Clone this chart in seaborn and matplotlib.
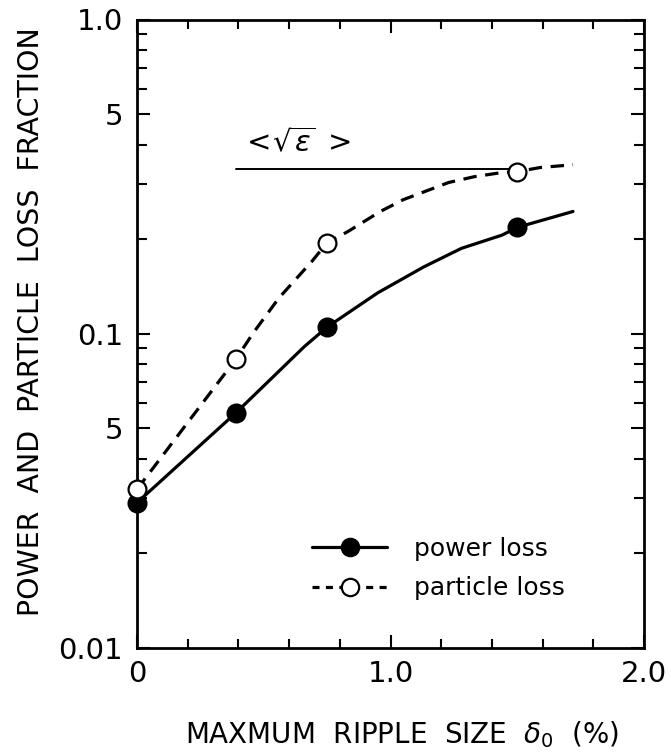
import matplotlib
matplotlib.use("Agg")
import matplotlib.pyplot as plt
from matplotlib.lines import Line2D
import seaborn as sns

# Measured loss fractions versus maximum ripple size
ripple_pct = [0.0, 0.39, 0.75, 1.5]
power_loss = [0.029, 0.056, 0.105, 0.218]
particle_loss = [0.032, 0.083, 0.195, 0.328]

# Hand-drawn guide curves through the measurements
power_curve_x = [0.0, 0.39, 0.66, 0.75, 0.95, 1.13, 1.28, 1.44, 1.5, 1.72]
power_curve_y = [0.029, 0.056, 0.091, 0.105, 0.135, 0.163, 0.187, 0.206, 0.218, 0.245]
particle_curve_x = [0.0, 0.39, 0.46, 0.56, 0.69, 0.75, 0.83, 0.96, 1.05,
                    1.23, 1.33, 1.43, 1.5, 1.59, 1.72]
particle_curve_y = [0.032, 0.083, 0.101, 0.130, 0.170, 0.195, 0.211, 0.245, 0.267,
                    0.303, 0.316, 0.325, 0.328, 0.338, 0.345]

# Reference level <sqrt(eps)>
sqrt_eps_level = 0.335
sqrt_eps_span = [0.39, 1.47]

x_ticks = [0.0, 1.0, 2.0]
x_tick_labels = ["0", "1.0", "2.0"]
x_minor = [0.2, 0.4, 0.6, 0.8, 1.2, 1.4, 1.6, 1.8]
y_ticks = [0.01, 0.05, 0.1, 0.5, 1.0]
y_tick_labels = ["0.01", "5", "0.1", "5", "1.0"]
y_minor = [0.02, 0.03, 0.04, 0.06, 0.07, 0.08, 0.09,
           0.2, 0.3, 0.4, 0.6, 0.7, 0.8, 0.9]

sns.set_style("ticks")
plt.rcParams["font.family"] = ["DejaVu Sans"]
plt.rcParams["mathtext.fontset"] = "dejavusans"
plt.rcParams["text.color"] = "black"
plt.rcParams["axes.labelcolor"] = "black"

W, H = 671, 752
fig = plt.figure(figsize=(W / 100, H / 100), dpi=100)
left, right, bottom, top = 137, 644, 648, 19.5
ax = fig.add_axes([left / W, (H - bottom) / H, (right - left) / W, (bottom - top) / H])
ax.set_yscale("log")

lw = 2.3
dash = (0, (4.2, 2.7))

# horizontal <sqrt(eps)> marker line
sns.lineplot(x=sqrt_eps_span, y=[sqrt_eps_level] * 2, ax=ax, color="black",
             linewidth=1.4, estimator=None, sort=False, zorder=1)
ax.text(0.627, 0.405, r"$<\!\sqrt{\epsilon}\;>$", fontsize=21,
        ha="center", va="center", color="black")

sns.lineplot(x=power_curve_x, y=power_curve_y, ax=ax, color="black", linewidth=lw,
             estimator=None, sort=False, zorder=2)
sns.lineplot(x=particle_curve_x, y=particle_curve_y, ax=ax, color="black",
             linewidth=lw, linestyle=dash, estimator=None, sort=False, zorder=2)

sns.scatterplot(x=ripple_pct, y=power_loss, ax=ax, marker="o", s=165,
                color="black", edgecolor="black", linewidth=1.6, zorder=3,
                clip_on=False)
sns.scatterplot(x=ripple_pct, y=particle_loss, ax=ax, marker="o", s=165,
                facecolor="white", edgecolor="black", linewidth=1.6, zorder=4,
                clip_on=False)

ax.set_xlim(0, 2.0)
ax.set_ylim(0.01, 1.0)

ax.set_xticks(x_ticks)
ax.set_xticklabels(x_tick_labels)
ax.set_xticks(x_minor, minor=True)
ax.set_yticks(y_ticks)
ax.set_yticklabels(y_tick_labels)
ax.set_yticks(y_minor, minor=True)
ax.yaxis.set_minor_formatter(matplotlib.ticker.NullFormatter())

ax.tick_params(which="both", direction="in", top=True, right=True,
               width=1.5, color="black", labelsize=21, labelcolor="black")
ax.tick_params(axis="x", which="major", length=9.5, pad=9)
ax.tick_params(axis="x", which="minor", length=6.5)
ax.tick_params(axis="y", which="major", length=9.5, pad=10)
ax.tick_params(axis="y", which="minor", length=7)

for sp in ax.spines.values():
    sp.set_visible(True)
    sp.set_linewidth(2.0)
    sp.set_color("black")

ax.set_xlabel(r"MAXMUM  RIPPLE  SIZE  $\delta_0$  (%)", fontsize=20, color="black")
ax.xaxis.set_label_coords(0.523, -0.137)
ax.xaxis.label.set_va("center")
ax.set_ylabel("POWER  AND  PARTICLE  LOSS  FRACTION", fontsize=20.5, color="black")
ax.yaxis.set_label_coords(-0.209, 0.519)
ax.yaxis.label.set_va("center")

handles = [
    Line2D([], [], color="black", lw=lw, marker="o", markersize=12.5,
           markerfacecolor="black", markeredgecolor="black", markeredgewidth=1.6),
    Line2D([], [], color="black", lw=lw, linestyle=(0, (2.2, 2.0)), marker="o",
           markersize=12.5, markerfacecolor="white", markeredgecolor="black",
           markeredgewidth=1.6),
]
leg = ax.legend(handles, ["power loss", "particle loss"], loc="upper left",
                bbox_to_anchor=(312 / W, (H - 537) / H), bbox_transform=fig.transFigure,
                frameon=False, fontsize=18, handlelength=3.0, handletextpad=1.1,
                labelspacing=0.62, borderpad=0, borderaxespad=0, numpoints=1)
for t in leg.get_texts():
    t.set_color("black")

fig.savefig("out.png", dpi=100)
